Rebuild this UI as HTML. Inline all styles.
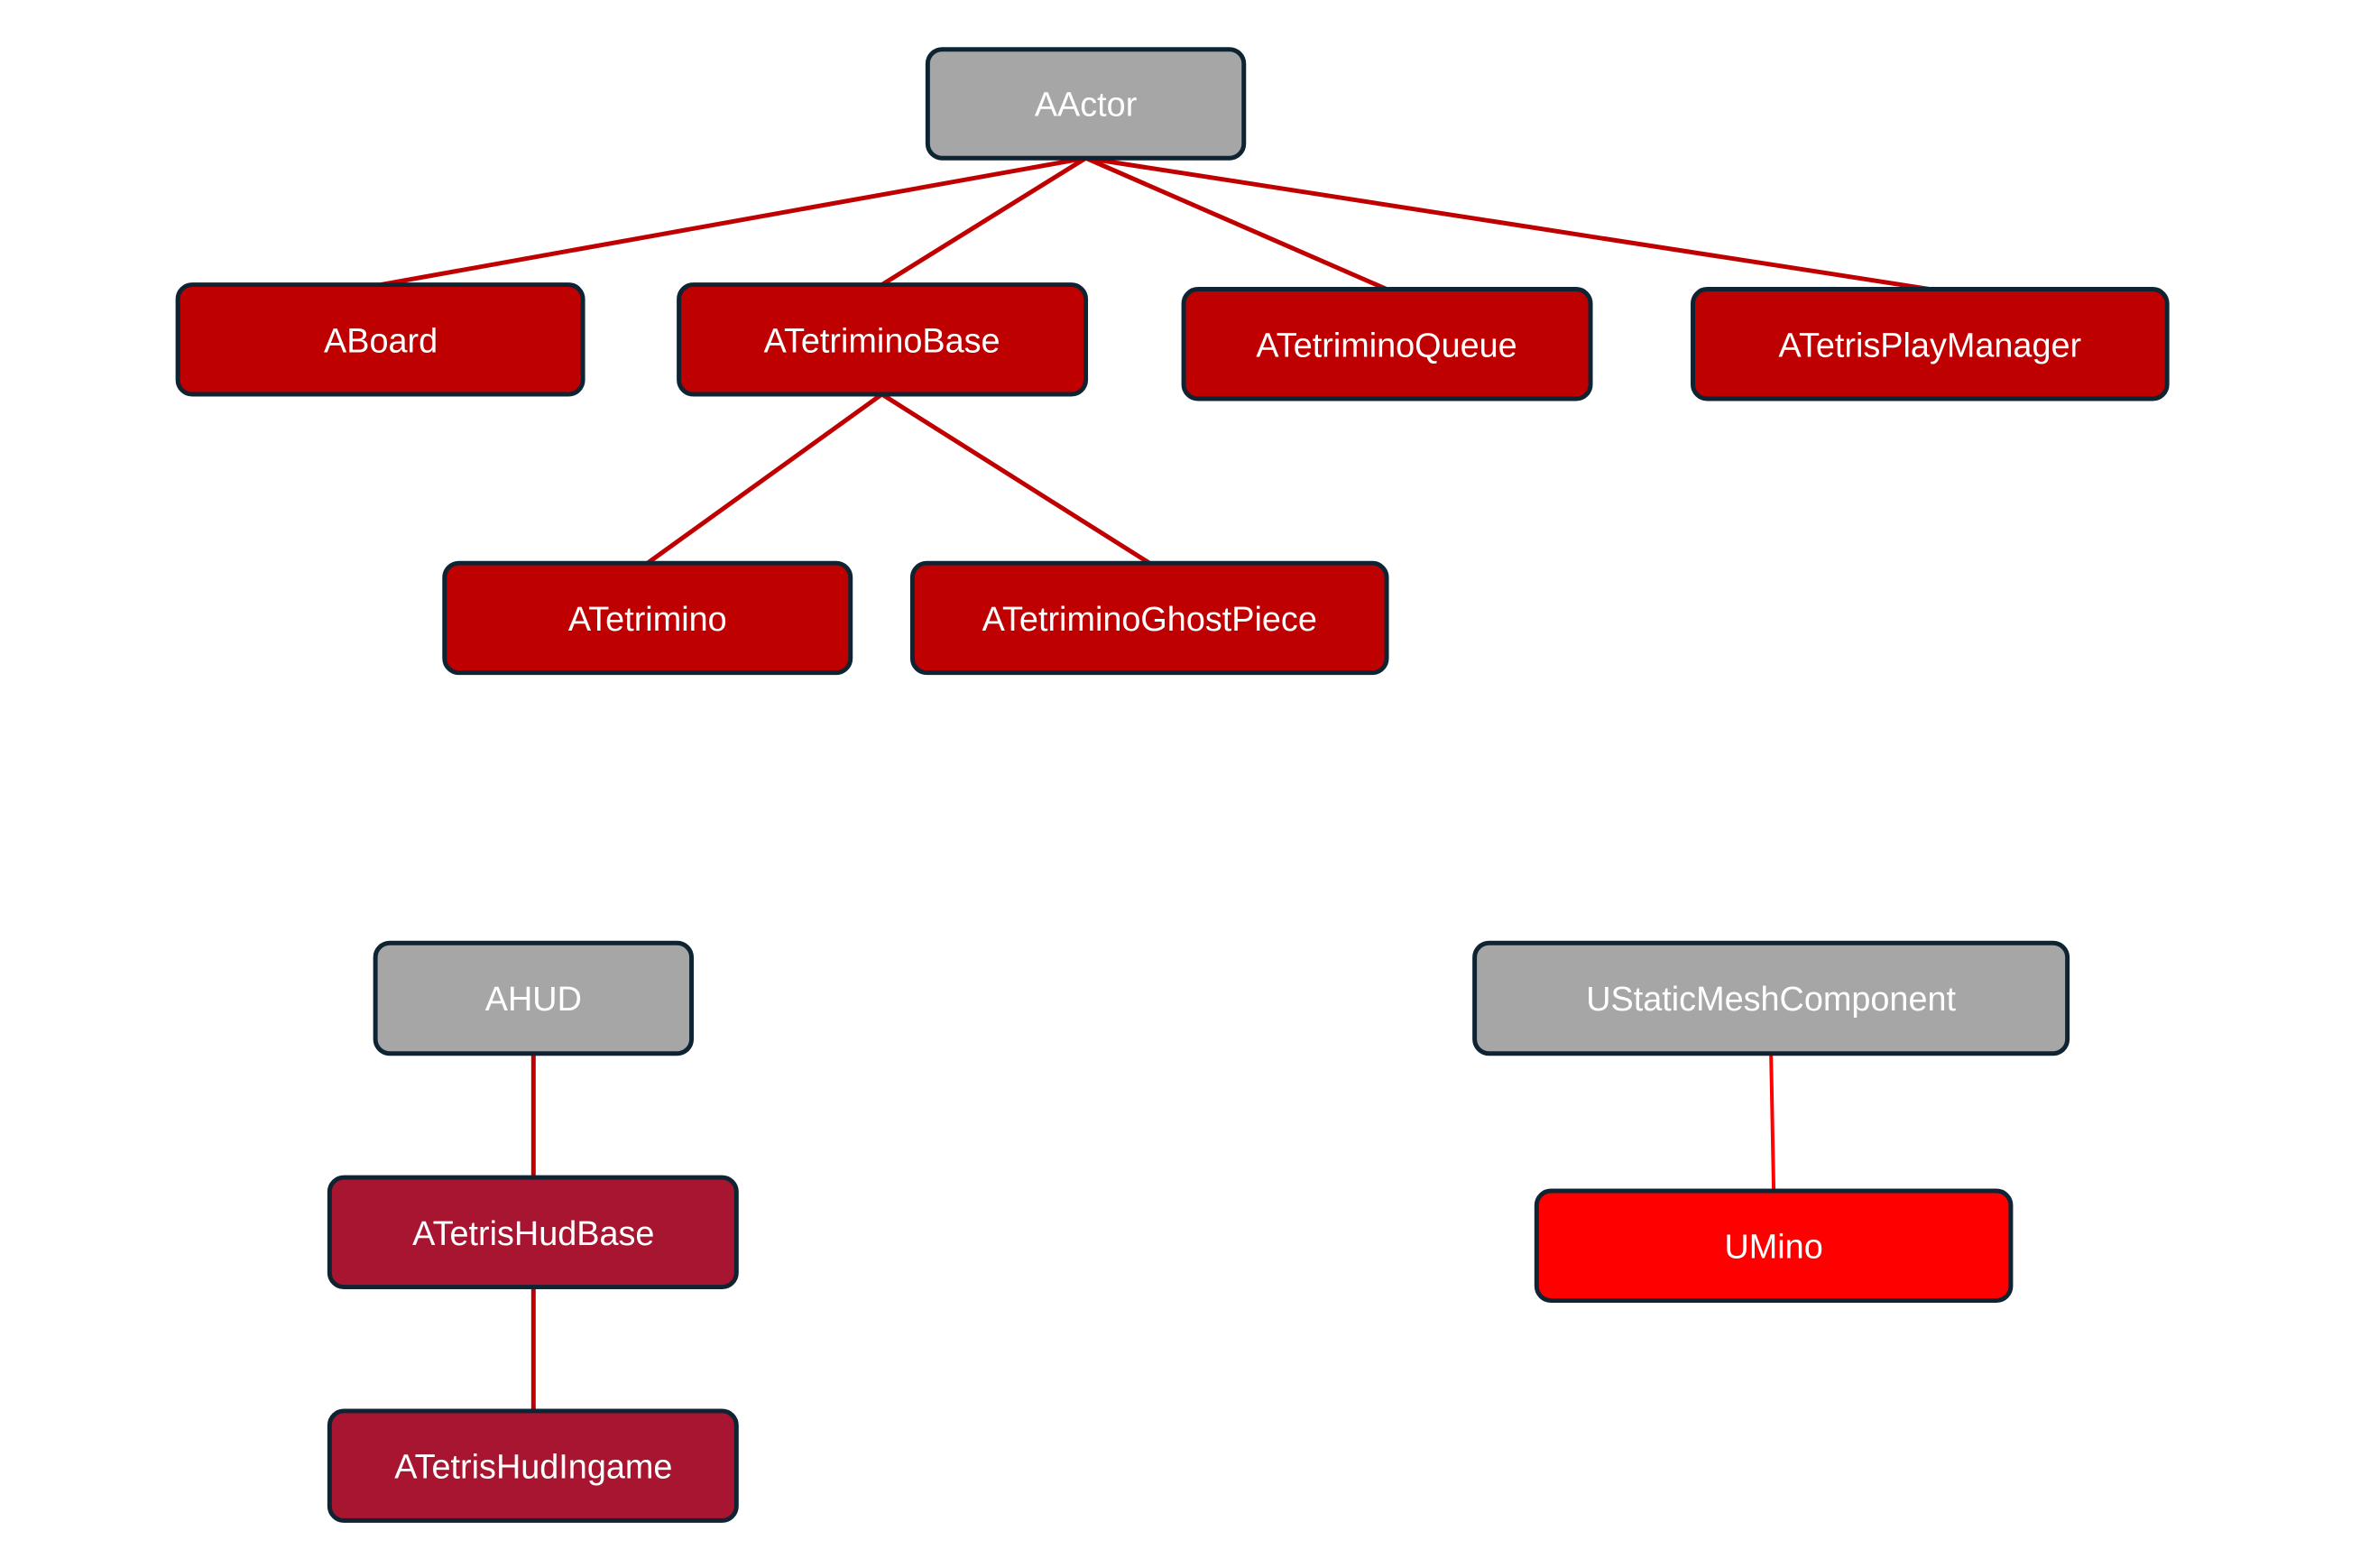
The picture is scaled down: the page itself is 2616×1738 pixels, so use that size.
<!DOCTYPE html>
<html><head><meta charset="utf-8"><style>
html,body{margin:0;padding:0;background:#fff;}
svg{display:block;}
text{font-family:"Liberation Sans",sans-serif;font-size:38px;fill:#fff;text-anchor:middle;dominant-baseline:central;}
rect{stroke:#0e2433;stroke-width:5;}
</style></head><body>
<svg width="2616" height="1738" viewBox="0 0 2616 1738" xmlns="http://www.w3.org/2000/svg">
<g transform="scale(0.9955)">
<g stroke="#c00000" stroke-width="5" fill="none">
<line x1="1209" y1="176" x2="424" y2="317"/>
<line x1="1209" y1="176" x2="982" y2="317"/>
<line x1="1209" y1="176" x2="1544" y2="322"/>
<line x1="1209" y1="176" x2="2149" y2="322"/>
<line x1="982" y1="439" x2="721" y2="627"/>
<line x1="982" y1="439" x2="1280" y2="627"/>
<line x1="594" y1="1173" x2="594" y2="1311"/>
<line x1="594" y1="1433" x2="594" y2="1571"/>
</g>
<line x1="1972" y1="1173" x2="1975" y2="1326" stroke="#ff0000" stroke-width="4"/>
<rect x="1033" y="55" width="352" height="121" rx="16" fill="#a6a6a6"/><text x="1209" y="117">AActor</text>
<rect x="198" y="317" width="451" height="122" rx="16" fill="#bf0000"/><text x="424" y="380">ABoard</text>
<rect x="756" y="317" width="453" height="122" rx="16" fill="#bf0000"/><text x="982" y="380">ATetriminoBase</text>
<rect x="1318" y="322" width="453" height="122" rx="16" fill="#bf0000"/><text x="1544" y="385">ATetriminoQueue</text>
<rect x="1885" y="322" width="528" height="122" rx="16" fill="#bf0000"/><text x="2149" y="385">ATetrisPlayManager</text>
<rect x="495" y="627" width="452" height="122" rx="16" fill="#bf0000"/><text x="721" y="690">ATetrimino</text>
<rect x="1016" y="627" width="528" height="122" rx="16" fill="#bf0000"/><text x="1280" y="690">ATetriminoGhostPiece</text>
<rect x="418" y="1050" width="352" height="123" rx="16" fill="#a6a6a6"/><text x="594" y="1113">AHUD</text>
<rect x="1642" y="1050" width="660" height="123" rx="16" fill="#a6a6a6"/><text x="1972" y="1113">UStaticMeshComponent</text>
<rect x="367" y="1311" width="453" height="122" rx="16" fill="#a81530"/><text x="594" y="1374">ATetrisHudBase</text>
<rect x="367" y="1571" width="453" height="122" rx="16" fill="#a81530"/><text x="594" y="1634">ATetrisHudIngame</text>
<rect x="1711" y="1326" width="528" height="122" rx="16" fill="#ff0000"/><text x="1975" y="1389">UMino</text>
</g>
</svg>
</body></html>
